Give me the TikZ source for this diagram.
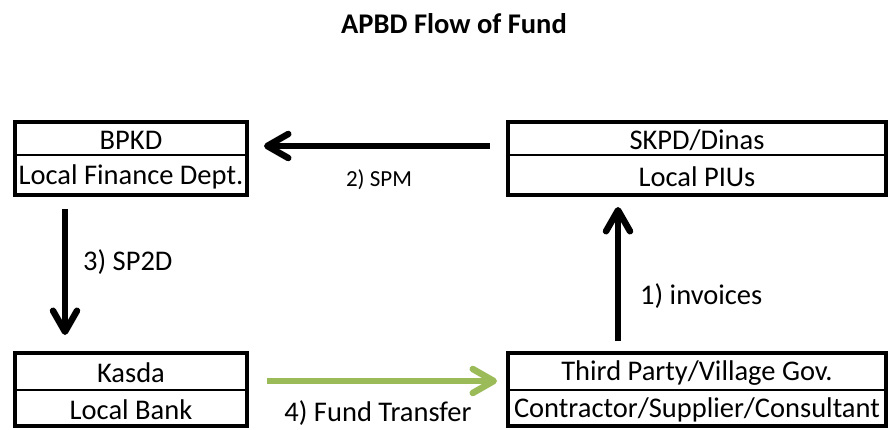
\documentclass[tikz,border=0pt]{standalone}
\usepackage{fontspec}
\setmainfont{Carlito}
\usetikzlibrary{arrows.meta,calc}
\definecolor{fundgreen}{RGB}{155,187,89}
\begin{document}
\begin{tikzpicture}[x=1pt,y=-1pt,
  box/.style={draw=black,line width=4pt,inner sep=0pt,fill=white},
  divider/.style={draw=black,line width=2.5pt},
  lbl/.style={inner sep=0pt,font=\fontsize{28.5}{31}\selectfont},
  smalllbl/.style={inner sep=0pt,font=\fontsize{23}{25}\selectfont},
  flowarrow/.style={line width=6.5pt,-{Straight Barb[length=21pt,width=24pt,round]}},
  blackflow/.style={flowarrow,draw=black},
  greenflow/.style={flowarrow,draw=fundgreen}]
\useasboundingbox (0,0) rectangle (888,430);

\node[inner sep=0pt,font=\bfseries\fontsize{28.5}{30}\selectfont] (title) at (454,24) {APBD Flow of Fund};

% boxes
\node[box,minimum width=232pt,minimum height=73pt] (bpkd) at (131,158.5) {};
\node[box,minimum width=378pt,minimum height=73pt] (skpd) at (697,158.5) {};
\node[box,minimum width=232pt,minimum height=73pt] (kasda) at (131,389.5) {};
\node[box,minimum width=378pt,minimum height=73pt] (third) at (697,389.5) {};

% dividers
\draw[divider] ($(bpkd.north west)+(0,35)$) coordinate (bpkdl) -- (bpkdl -| bpkd.east);
\draw[divider] ($(skpd.north west)+(0,35)$) coordinate (skpdl) -- (skpdl -| skpd.east);
\draw[divider] ($(kasda.north west)+(0,39)$) coordinate (kasdal) -- (kasdal -| kasda.east);
\draw[divider] ($(third.north west)+(0,39)$) coordinate (thirdl) -- (thirdl -| third.east);

% texts
\node[lbl] (bpkdt) at (131,140.5) {BPKD};
\node[lbl] (bpkdb) at (131,177) {Local Finance Dept.};
\node[lbl] (skpdt) at (697,140.5) {SKPD/Dinas};
\node[lbl] (skpdb) at (697,177) {Local PIUs};
\node[lbl] (kasdat) at (131,373) {Kasda};
\node[lbl] (kasdab) at (131,410) {Local Bank};
\node[lbl] (thirdt) at (697,373) {Third Party/Village Gov.};
\node[lbl] (thirdb) at (697,410) {Contractor/Supplier/Consultant};

% arrows
\draw[blackflow] ($(skpd.north west)+(-16,26)$) -- ($(bpkd.north east)+(15,26)$);
\draw[blackflow] ($(bpkd.south west)+(52,12)$) -- ($(kasda.north west)+(52,-16)$);
\draw[blackflow] ($(third.north west)+(112,-10)$) -- ($(skpd.south west)+(112,10)$);
\draw[greenflow] ($(kasda.north east)+(18,30)$) -- ($(third.north west)+(-9,30)$);

% arrow labels
\node[smalllbl] (spm) at (379,180) {2) SPM};
\node[lbl,anchor=west] (sp2d) at (83,262) {3) SP2D};
\node[lbl,anchor=west] (inv) at (640,296) {1) invoices};
\node[lbl] (fund) at (378,413) {4) Fund Transfer};
\end{tikzpicture}
\end{document}
